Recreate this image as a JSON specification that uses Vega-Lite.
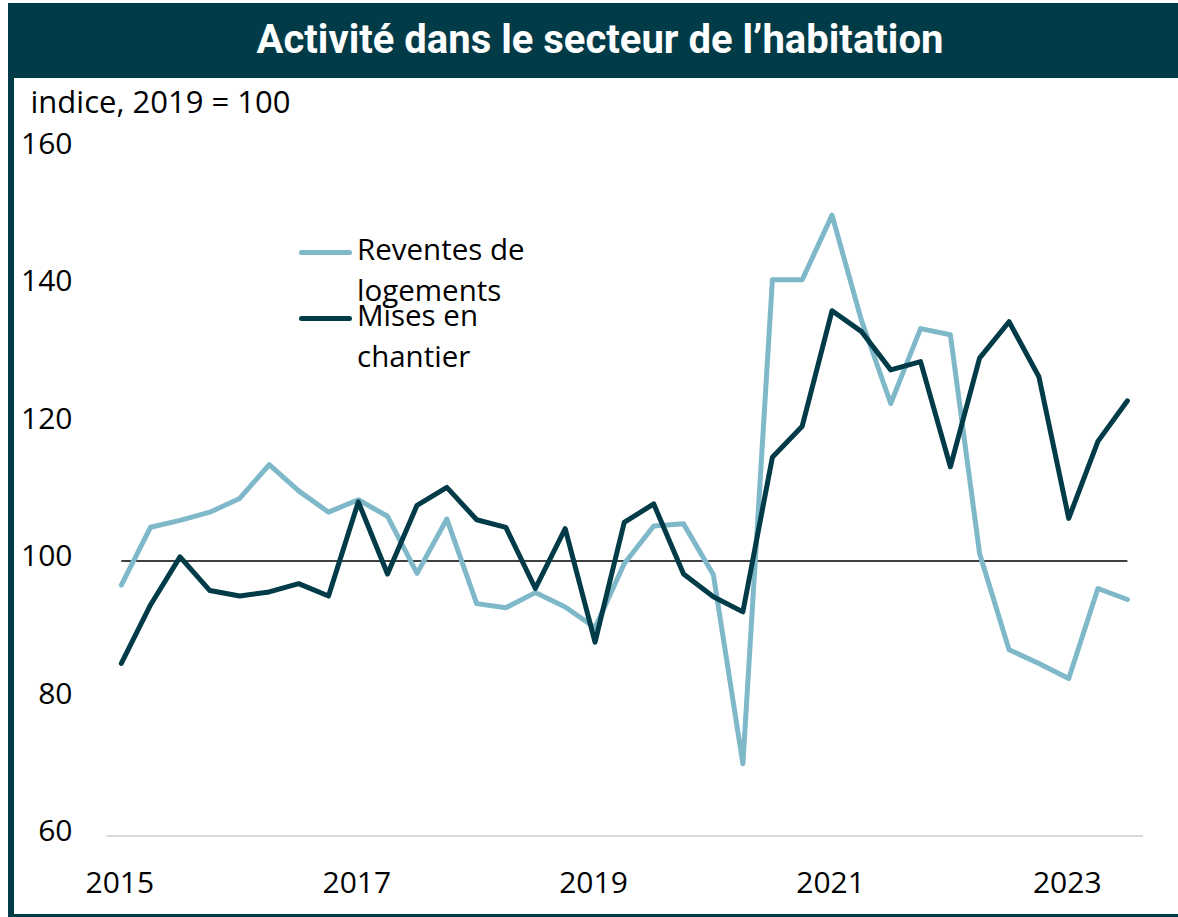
{
  "$schema": "https://vega.github.io/schema/vega-lite/v6.json",
  "background": "white",
  "padding": {"left": 8, "top": 3, "right": 0, "bottom": 0},
  "spacing": 0,
  "bounds": "flush",
  "config": {"view": {"stroke": null}, "font": "Open Sans",
    "legend": {"orient": "none", "title": null, "symbolType": "stroke", "symbolSize": 2304, "symbolStrokeWidth": 5,
      "labelFont": "Open Sans", "labelFontSize": 29.5, "labelColor": "black", "labelOffset": 5, "labelLimit": 500, "padding": 0}},
  "hconcat": [
    {
      "width": 6,
      "height": 914,
      "view": {"fill": "#003b47", "stroke": null},
      "data": {"values": [{}]},
      "mark": {"type": "text", "text": ""}
    },
    {
      "spacing": 0,
      "bounds": "flush",
      "vconcat": [
        {
          "width": 1164,
          "height": 75,
          "view": {"fill": "#003b47", "stroke": null},
          "data": {"values": [{}]},
          "mark": {"type": "text", "text": "Activité dans le secteur de l’habitation", "font": "Roboto", "fontSize": 40, "fontWeight": "bold", "color": "white", "align": "center", "baseline": "middle", "dx": 4}
        },
        {
          "width": 1164,
          "height": 836,
          "view": {"fill": "white", "stroke": null},
          "data": {"values": [
            {"date": "2015-01-01T00:00:00", "serie": "Reventes de logements", "valeur": 96.5},
            {"date": "2015-04-01T00:00:00", "serie": "Reventes de logements", "valeur": 104.9},
            {"date": "2015-07-01T00:00:00", "serie": "Reventes de logements", "valeur": 105.9},
            {"date": "2015-10-01T00:00:00", "serie": "Reventes de logements", "valeur": 107.1},
            {"date": "2016-01-01T00:00:00", "serie": "Reventes de logements", "valeur": 109.1},
            {"date": "2016-04-01T00:00:00", "serie": "Reventes de logements", "valeur": 114.0},
            {"date": "2016-07-01T00:00:00", "serie": "Reventes de logements", "valeur": 110.2},
            {"date": "2016-10-01T00:00:00", "serie": "Reventes de logements", "valeur": 107.1},
            {"date": "2017-01-01T00:00:00", "serie": "Reventes de logements", "valeur": 108.9},
            {"date": "2017-04-01T00:00:00", "serie": "Reventes de logements", "valeur": 106.5},
            {"date": "2017-07-01T00:00:00", "serie": "Reventes de logements", "valeur": 98.2},
            {"date": "2017-10-01T00:00:00", "serie": "Reventes de logements", "valeur": 106.1},
            {"date": "2018-01-01T00:00:00", "serie": "Reventes de logements", "valeur": 93.8},
            {"date": "2018-04-01T00:00:00", "serie": "Reventes de logements", "valeur": 93.2},
            {"date": "2018-07-01T00:00:00", "serie": "Reventes de logements", "valeur": 95.4},
            {"date": "2018-10-01T00:00:00", "serie": "Reventes de logements", "valeur": 93.3},
            {"date": "2019-01-01T00:00:00", "serie": "Reventes de logements", "valeur": 90.3},
            {"date": "2019-04-01T00:00:00", "serie": "Reventes de logements", "valeur": 99.6},
            {"date": "2019-07-01T00:00:00", "serie": "Reventes de logements", "valeur": 105.1},
            {"date": "2019-10-01T00:00:00", "serie": "Reventes de logements", "valeur": 105.4},
            {"date": "2020-01-01T00:00:00", "serie": "Reventes de logements", "valeur": 98.0},
            {"date": "2020-04-01T00:00:00", "serie": "Reventes de logements", "valeur": 70.5},
            {"date": "2020-07-01T00:00:00", "serie": "Reventes de logements", "valeur": 140.9},
            {"date": "2020-10-01T00:00:00", "serie": "Reventes de logements", "valeur": 140.9},
            {"date": "2021-01-01T00:00:00", "serie": "Reventes de logements", "valeur": 150.3},
            {"date": "2021-04-01T00:00:00", "serie": "Reventes de logements", "valeur": 135.1},
            {"date": "2021-07-01T00:00:00", "serie": "Reventes de logements", "valeur": 122.9},
            {"date": "2021-10-01T00:00:00", "serie": "Reventes de logements", "valeur": 133.8},
            {"date": "2022-01-01T00:00:00", "serie": "Reventes de logements", "valeur": 132.9},
            {"date": "2022-04-01T00:00:00", "serie": "Reventes de logements", "valeur": 101.1},
            {"date": "2022-07-01T00:00:00", "serie": "Reventes de logements", "valeur": 87.1},
            {"date": "2022-10-01T00:00:00", "serie": "Reventes de logements", "valeur": 85.1},
            {"date": "2023-01-01T00:00:00", "serie": "Reventes de logements", "valeur": 82.9},
            {"date": "2023-04-01T00:00:00", "serie": "Reventes de logements", "valeur": 96.0},
            {"date": "2023-07-01T00:00:00", "serie": "Reventes de logements", "valeur": 94.4},
            {"date": "2015-01-01T00:00:00", "serie": "Mises en chantier", "valeur": 85.1},
            {"date": "2015-04-01T00:00:00", "serie": "Mises en chantier", "valeur": 93.6},
            {"date": "2015-07-01T00:00:00", "serie": "Mises en chantier", "valeur": 100.6},
            {"date": "2015-10-01T00:00:00", "serie": "Mises en chantier", "valeur": 95.7},
            {"date": "2016-01-01T00:00:00", "serie": "Mises en chantier", "valeur": 94.9},
            {"date": "2016-04-01T00:00:00", "serie": "Mises en chantier", "valeur": 95.5},
            {"date": "2016-07-01T00:00:00", "serie": "Mises en chantier", "valeur": 96.7},
            {"date": "2016-10-01T00:00:00", "serie": "Mises en chantier", "valeur": 94.9},
            {"date": "2017-01-01T00:00:00", "serie": "Mises en chantier", "valeur": 108.6},
            {"date": "2017-04-01T00:00:00", "serie": "Mises en chantier", "valeur": 98.1},
            {"date": "2017-07-01T00:00:00", "serie": "Mises en chantier", "valeur": 108.1},
            {"date": "2017-10-01T00:00:00", "serie": "Mises en chantier", "valeur": 110.7},
            {"date": "2018-01-01T00:00:00", "serie": "Mises en chantier", "valeur": 106.0},
            {"date": "2018-04-01T00:00:00", "serie": "Mises en chantier", "valeur": 104.9},
            {"date": "2018-07-01T00:00:00", "serie": "Mises en chantier", "valeur": 96.0},
            {"date": "2018-10-01T00:00:00", "serie": "Mises en chantier", "valeur": 104.7},
            {"date": "2019-01-01T00:00:00", "serie": "Mises en chantier", "valeur": 88.2},
            {"date": "2019-04-01T00:00:00", "serie": "Mises en chantier", "valeur": 105.6},
            {"date": "2019-07-01T00:00:00", "serie": "Mises en chantier", "valeur": 108.3},
            {"date": "2019-10-01T00:00:00", "serie": "Mises en chantier", "valeur": 98.1},
            {"date": "2020-01-01T00:00:00", "serie": "Mises en chantier", "valeur": 94.8},
            {"date": "2020-04-01T00:00:00", "serie": "Mises en chantier", "valeur": 92.6},
            {"date": "2020-07-01T00:00:00", "serie": "Mises en chantier", "valeur": 115.1},
            {"date": "2020-10-01T00:00:00", "serie": "Mises en chantier", "valeur": 119.6},
            {"date": "2021-01-01T00:00:00", "serie": "Mises en chantier", "valeur": 136.4},
            {"date": "2021-04-01T00:00:00", "serie": "Mises en chantier", "valeur": 133.4},
            {"date": "2021-07-01T00:00:00", "serie": "Mises en chantier", "valeur": 127.8},
            {"date": "2021-10-01T00:00:00", "serie": "Mises en chantier", "valeur": 129.0},
            {"date": "2022-01-01T00:00:00", "serie": "Mises en chantier", "valeur": 113.7},
            {"date": "2022-04-01T00:00:00", "serie": "Mises en chantier", "valeur": 129.5},
            {"date": "2022-07-01T00:00:00", "serie": "Mises en chantier", "valeur": 134.8},
            {"date": "2022-10-01T00:00:00", "serie": "Mises en chantier", "valeur": 126.8},
            {"date": "2023-01-01T00:00:00", "serie": "Mises en chantier", "valeur": 106.2},
            {"date": "2023-04-01T00:00:00", "serie": "Mises en chantier", "valeur": 117.4},
            {"date": "2023-07-01T00:00:00", "serie": "Mises en chantier", "valeur": 123.3}
          ]},
          "encoding": {
            "x": {
              "field": "date", "type": "temporal",
              "scale": {"domain": [{"year": 2014, "month": 2, "date": 4}, {"year": 2023, "month": 12, "date": 4}], "nice": false},
              "axis": {
                "title": null, "format": "%Y",
                "values": [{"year": 2015}, {"year": 2017}, {"year": 2019}, {"year": 2021}, {"year": 2023}],
                "grid": false, "domain": false, "ticks": false, "tickSize": 0,
                "offset": -31, "labelPadding": 0, "labelBaseline": "middle", "labelOffset": -2,
                "labelFont": "Open Sans", "labelFontSize": 30, "labelColor": "black", "labelFlush": false, "labelOverlap": false
              }
            },
            "y": {
              "field": "valeur", "type": "quantitative",
              "scale": {"domain": [48.655, 170.25], "nice": false, "zero": false},
              "axis": {
                "title": "indice, 2019 = 100", "titleAngle": 0, "titleAlign": "left", "titleBaseline": "middle",
                "titleX": -42, "titleY": 25, "titleFont": "Open Sans", "titleFontSize": 31, "titleFontWeight": "normal", "titleColor": "black",
                "values": [60, 80, 100, 120, 140, 160],
                "grid": false, "domain": false, "ticks": false, "tickSize": 0,
                "offset": -58, "labelPadding": 0, "labelOffset": -4,
                "labelFont": "Open Sans", "labelFontSize": 30, "labelColor": "black", "labelOverlap": false
              }
            }
          },
          "resolve": {"scale": {"color": "independent"}, "legend": {"color": "independent"}},
          "layer": [
            {
              "data": {"values": [{"date": "2014-11-17T00:00:00", "date2": "2023-08-18T00:00:00", "valeur": 60}]},
              "mark": {"type": "rule", "color": "#d9d9d9", "strokeWidth": 2},
              "encoding": {"x2": {"field": "date2"}}
            },
            {
              "data": {"values": [{"date": "2015-01-01T00:00:00", "date2": "2023-07-01T00:00:00", "valeur": 100}]},
              "mark": {"type": "rule", "color": "#000000", "strokeWidth": 1.5},
              "encoding": {"x2": {"field": "date2"}}
            },
            {
              "transform": [{"filter": "datum.serie == 'Reventes de logements'"}],
              "mark": {"type": "line", "strokeWidth": 5, "strokeJoin": "round", "strokeCap": "round"},
              "encoding": {
                "color": {
                  "field": "serie", "type": "nominal",
                  "scale": {"domain": ["Reventes de logements"], "range": ["#7fb8c9"]},
                  "legend": {
                    "legendX": 285, "legendY": 148,
                    "labelExpr": "['Reventes de', 'logements']",
                    "encode": {
                      "labels": {"update": {"lineHeight": {"value": 41}, "baseline": {"value": "alphabetic"}, "dy": {"value": 7}}},
                      "symbols": {"update": {"strokeCap": {"value": "round"}}}
                    }
                  }
                }
              }
            },
            {
              "transform": [{"filter": "datum.serie == 'Mises en chantier'"}],
              "mark": {"type": "line", "strokeWidth": 5, "strokeJoin": "round", "strokeCap": "round"},
              "encoding": {
                "color": {
                  "field": "serie", "type": "nominal",
                  "scale": {"domain": ["Mises en chantier"], "range": ["#003b47"]},
                  "legend": {
                    "legendX": 285, "legendY": 214,
                    "labelExpr": "['Mises en', 'chantier']",
                    "encode": {
                      "labels": {"update": {"lineHeight": {"value": 41}, "baseline": {"value": "alphabetic"}, "dy": {"value": 7}}},
                      "symbols": {"update": {"strokeCap": {"value": "round"}}}
                    }
                  }
                }
              }
            }
          ]
        },
        {
          "width": 1164,
          "height": 3,
          "view": {"fill": "#003b47", "stroke": null},
          "data": {"values": [{}]},
          "mark": {"type": "text", "text": ""}
        }
      ]
    }
  ]
}
